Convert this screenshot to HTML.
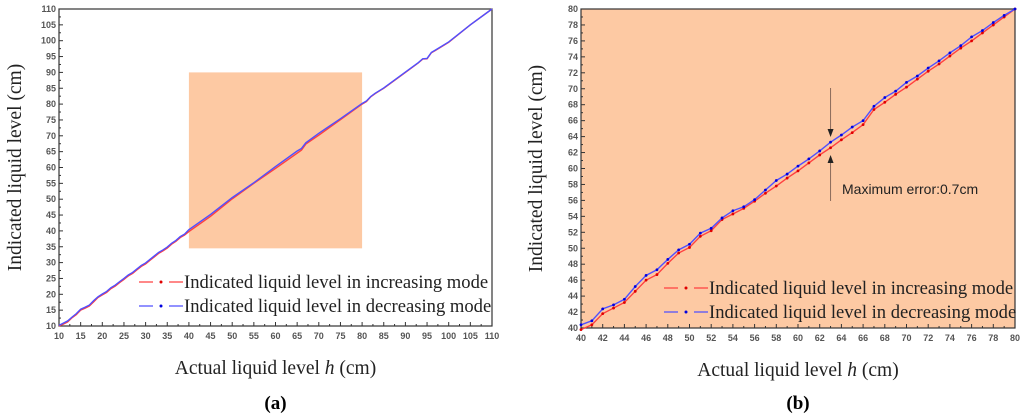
<!DOCTYPE html>
<html><head><meta charset="utf-8"><style>
body{margin:0;background:#fff;width:1024px;height:417px;overflow:hidden}
svg{display:block}
.tk{font:bold 9px "Liberation Sans",sans-serif;fill:#555}
.ti{font:19.5px "Liberation Serif",serif;fill:#222}
.lg{font:18.6px "Liberation Serif",serif;fill:#222}
</style></head><body>
<svg id="s" width="1024" height="417"></svg>
<script>
const xsA=[10,11,12,13,14,15,16,17,18,19,20,21,22,23,24,25,26,27,28,29,30,31,32,33,34,35,36,37,38,39,40,45,50,55,60,65,66,67,70,75,80,81,82,83,85,90,93,94,95,96,97,100,105,110];
const incA=[10,10.6,11.3,12.6,13.6,15,15.6,16.3,17.6,19,19.8,20.6,21.8,22.6,23.7,24.7,25.8,26.6,27.7,28.8,29.6,30.7,31.8,32.9,33.7,34.6,35.8,36.7,37.9,38.7,39.8,44.6,50.1,55,59.7,64.5,65.5,67.4,70.2,75.1,80,80.8,82.3,83.3,85,90,93,94.2,94.3,96.2,97,99.5,105,110];
const decA=[10.2,10.9,11.6,12.8,13.9,15.3,15.9,16.6,18,19.2,20.1,20.9,22.1,22.9,24,25,26.1,26.9,28,29.1,29.9,31,32.1,33.2,34,34.9,36.1,37,38.2,39,40.4,45.2,50.5,55.2,60.3,65.2,66,67.8,70.8,75.4,80.2,81,82.4,83.4,85.1,90.1,93.1,94.3,94.4,96.3,97.1,99.6,105,110];
const xsB=[40,41,42,43,44,45,46,47,48,49,50,51,52,53,54,55,56,57,58,59,60,61,62,63,64,65,66,67,68,69,70,71,72,73,74,75,76,77,78,79,80];
const incB=[39.8,40.4,41.8,42.5,43.2,44.6,46.0,46.7,48.1,49.4,50.1,51.5,52.2,53.6,54.3,55.0,55.9,56.9,57.8,58.8,59.7,60.7,61.7,62.6,63.6,64.5,65.5,67.4,68.3,69.3,70.2,71.2,72.2,73.1,74.1,75.1,76.0,77.0,78.0,79.0,80.0];
const decB=[40.4,40.9,42.4,42.9,43.6,45.2,46.6,47.3,48.6,49.8,50.5,51.9,52.5,53.8,54.7,55.2,56.1,57.3,58.5,59.3,60.3,61.2,62.2,63.3,64.2,65.2,66.0,67.8,68.9,69.7,70.8,71.6,72.6,73.5,74.5,75.4,76.5,77.3,78.3,79.2,80.0];
const ticksA=[10,15,20,25,30,35,40,45,50,55,60,65,70,75,80,85,90,95,100,105,110];
const ticksB=[40,42,44,46,48,50,52,54,56,58,60,62,64,66,68,70,72,74,76,78,80];
const NS='http://www.w3.org/2000/svg';
const svg=document.getElementById('s');
function el(t,a,p){const e=document.createElementNS(NS,t);for(const k in a)e.setAttribute(k,a[k]);(p||svg).appendChild(e);return e;}
function panel(o){
  const g=el('g',{});
  
  
  const X=v=>o.x0+(v-o.min)/(o.max-o.min)*(o.x1-o.x0);
  const Y=v=>o.y0-(v-o.min)/(o.max-o.min)*(o.y0-o.y1);
  const bg=el('rect',{x:o.x0,y:o.y1,width:o.x1-o.x0,height:o.y0-o.y1,fill:o.bg},g);
  
  
  if(o.zoom){const r=el('rect',{x:X(o.zoom[0]),y:Y(o.zoom[3]),width:X(o.zoom[1])-X(o.zoom[0]),height:Y(o.zoom[2])-Y(o.zoom[3]),fill:'#fdc9a3'},g);
    
    }
  const step=o.ticks[1]-o.ticks[0];
  for(let i=0;i<o.ticks.length;i++){const t=o.ticks[i];
    el('line',{x1:X(t),x2:X(t),y1:o.y0,y2:o.y0-4,stroke:'#333','stroke-width':1},g);
    el('line',{x1:o.x0,x2:o.x0+4,y1:Y(t),y2:Y(t),stroke:'#333','stroke-width':1},g);
    if(i<o.ticks.length-1){const m=t+step/2;
      el('line',{x1:X(m),x2:X(m),y1:o.y0,y2:o.y0-2,stroke:'#333'},g);
      el('line',{x1:o.x0,x2:o.x0+2,y1:Y(m),y2:Y(m),stroke:'#333'},g);}
    const tx=el('text',{x:X(t),y:o.y0+13,'text-anchor':'middle',class:'tk'},g);tx.textContent=t;
    
    
    const ty=el('text',{x:o.x0-3,y:Y(t)+3,'text-anchor':'end',class:'tk'},g);ty.textContent=t;
    
    
  }
  el('rect',{x:o.x0,y:o.y1,width:o.x1-o.x0,height:o.y0-o.y1,fill:'none',stroke:'#333','stroke-width':1.2},g);
  const ser=[[o.inc,'#ff4040','#e00000','series-increasing'],[o.dec,'#5050ff','#0000e0','series-decreasing']];
  for(const [d,c,dc,n] of ser){
    const pl=el('polyline',{points:o.xs.map((v,i)=>X(v)+','+Y(d[i])).join(' '),fill:'none',stroke:c,'stroke-width':1.4},g);
    
    
    if(o.dots)o.xs.forEach((v,i)=>{const p=el('circle',{cx:X(v),cy:Y(d[i]),r:1.4,fill:dc},g);
      
      });
  }
  const xt=el('text',{x:(o.x0+o.x1)/2,y:o.y0+48,'text-anchor':'middle',class:'ti'},g);
  xt.innerHTML='Actual liquid level <tspan font-style="italic">h</tspan> (cm)';
  
  
  const cy=(o.y0+o.y1)/2;
  const yt=el('text',{x:o.ytx,y:cy,'text-anchor':'middle',class:'ti',transform:`rotate(-90 ${o.ytx} ${cy})`},g);
  yt.textContent='Indicated liquid level (cm)';
  
  
  const labs=[['Indicated liquid level in increasing mode','#ff4040','#e00000'],['Indicated liquid level in decreasing mode','#5050ff','#0000e0']];
  labs.forEach((l,i)=>{const y=o.lgy+i*24;
    const lg=el('g',{},g);
    
    
    el('line',{x1:o.lgx,x2:o.lgx+44,y1:y,y2:y,stroke:l[1],'stroke-width':1.3,'stroke-dasharray':'14 8 0 8 14'},lg);
    el('circle',{cx:o.lgx+22,cy:y,r:1.5,fill:l[2]},lg);
    const t=el('text',{x:o.lgx+45,y:y+6,class:'lg'},lg);t.textContent=l[0];});
  const c=el('text',{x:(o.x0+o.x1)/2,y:409,'text-anchor':'middle',style:'font:bold 19px "Liberation Serif",serif'},g);
  c.innerHTML='(<tspan>'+o.cap+'</tspan>)';
  
  
  return {X,Y,g};
}
panel({name:'panel-a',x0:59,x1:492,y0:326,y1:9,min:10,max:110,ticks:ticksA,xs:xsA,inc:incA,dec:decA,bg:'#fff',zoom:[40,80,34.5,90],ytx:21,lgx:139,lgy:282,cap:'a',dots:false});
const pb=panel({name:'panel-b',x0:581,x1:1015,y0:328,y1:9,min:40,max:80,ticks:ticksB,xs:xsB,inc:incB,dec:decB,bg:'#fdc9a3',ytx:542,lgx:664,lgy:288,cap:'b',dots:true});
const ax=pb.X(63);
const an=el('g',{},pb.g);


el('line',{x1:ax,x2:ax,y1:88,y2:131,stroke:'#8a6a5a','stroke-width':1},an);
el('path',{d:`M${ax-3},129 L${ax+3},129 L${ax},137 Z`,fill:'#222'},an);
el('line',{x1:ax,x2:ax,y1:160,y2:201,stroke:'#8a6a5a','stroke-width':1},an);
el('path',{d:`M${ax-3},163 L${ax+3},163 L${ax},155 Z`,fill:'#222'},an);
const at=el('text',{x:842,y:194,style:'font:14px "Liberation Sans",sans-serif',fill:'#222'},an);
at.textContent='Maximum error:0.7cm';
</script>
</body></html>
